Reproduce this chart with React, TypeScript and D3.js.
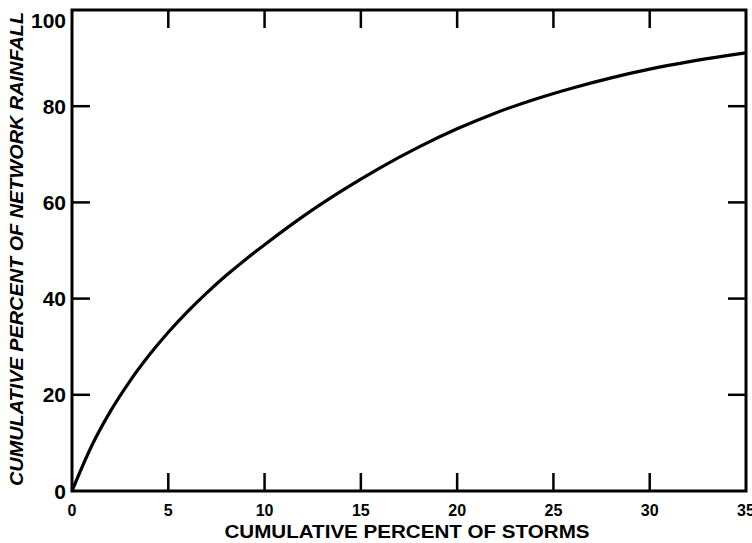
import * as d3 from "d3";

// cumulative percent of storms (x) vs cumulative percent of network rainfall (y)
const STORMS = [0, 1, 2, 3, 4, 5, 6, 7, 8, 9, 10, 12, 14, 16, 18, 20, 22, 24, 26, 28, 30, 32, 34, 35];
const RAINFALL = [0, 9.2, 16.6, 22.8, 28.2, 33.0, 37.3, 41.2, 44.8, 48.1, 51.2, 57.1, 62.4, 67.2, 71.5, 75.3, 78.6, 81.4, 83.8, 85.9, 87.7, 89.2, 90.5, 91.1];

const X_TICKS = [0, 5, 10, 15, 20, 25, 30, 35];
const Y_TICKS = [0, 20, 40, 60, 80, 100];

const W = 752;
const H = 543;
const L = 72;
const R = 746;
const T = 10;
const B = 491;
const TICK = 18;
const FONT = "'Liberation Sans', Arial, sans-serif";

export default function App() {
  const x = d3.scaleLinear().domain([0, 35]).range([L, R]);
  const y = d3.scaleLinear().domain([0, 100]).range([B, T]);

  const pts: [number, number][] = STORMS.map((s, i) => [s, RAINFALL[i]]);
  const line = d3
    .line<[number, number]>()
    .x((d) => x(d[0]))
    .y((d) => y(d[1]))
    .curve(d3.curveMonotoneX);

  const inner = X_TICKS.filter((t) => t > 0 && t < 35);
  const innerY = Y_TICKS.filter((t) => t > 0 && t < 100);

  return (
    <svg width={W} height={H} style={{ position: "absolute", left: 0, top: 0, background: "#fff" }} fontFamily={FONT}>
      {/* curve */}
      <path d={line(pts) ?? ""} fill="none" stroke="#000" strokeWidth={3.2} strokeLinejoin="round" />

      {/* frame */}
      <rect x={L} y={T} width={R - L} height={B - T} fill="none" stroke="#000" strokeWidth={3} />

      {/* inward ticks, bottom and top */}
      {inner.map((t) => (
        <g key={`x${t}`}>
          <line x1={x(t)} x2={x(t)} y1={B} y2={B - TICK} stroke="#000" strokeWidth={2.5} />
          <line x1={x(t)} x2={x(t)} y1={T} y2={T + TICK} stroke="#000" strokeWidth={2.5} />
        </g>
      ))}
      {/* inward ticks, left and right */}
      {innerY.map((t) => (
        <g key={`y${t}`}>
          <line x1={L} x2={L + TICK} y1={y(t)} y2={y(t)} stroke="#000" strokeWidth={2.5} />
          <line x1={R} x2={R - TICK} y1={y(t)} y2={y(t)} stroke="#000" strokeWidth={2.5} />
        </g>
      ))}

      {/* x tick labels */}
      {X_TICKS.map((t) => (
        <text key={`xl${t}`} x={x(t)} y={516} textAnchor="middle" fontSize={16} fontWeight={700}>
          {t}
        </text>
      ))}
      {/* y tick labels */}
      {Y_TICKS.map((t) => (
        <text key={`yl${t}`} x={66} y={Math.max(y(t), 20)} dy="0.36em" textAnchor="end" fontSize={21} fontWeight={700}>
          {t}
        </text>
      ))}

      {/* axis titles */}
      <text x={407} y={538} textAnchor="middle" fontSize={19} fontWeight={700} textLength={365} lengthAdjust="spacingAndGlyphs">
        CUMULATIVE PERCENT OF STORMS
      </text>
      <text
        transform={`translate(23,${(12 + 486) / 2}) rotate(-90)`}
        textAnchor="middle"
        fontSize={19}
        fontWeight={700}
        fontStyle="italic"
        textLength={474}
        lengthAdjust="spacingAndGlyphs"
      >
        CUMULATIVE PERCENT OF NETWORK RAINFALL
      </text>
    </svg>
  );
}
